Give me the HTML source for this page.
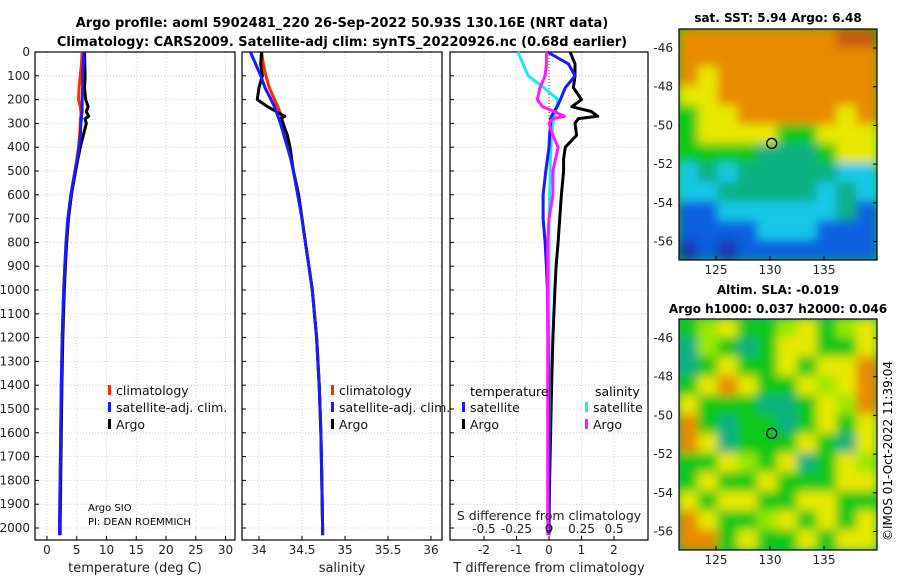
<!DOCTYPE html>
<html><head><meta charset="utf-8"><style>
body{margin:0;background:#fff;}
svg{display:block;font-family:"DejaVu Sans","Liberation Sans",sans-serif;}
</style></head><body>
<svg id="fig" width="900" height="580" viewBox="0 0 900 580">
<defs><filter id="bl" x="-5%" y="-5%" width="110%" height="110%"><feGaussianBlur stdDeviation="5"/></filter>
<clipPath id="c1"><rect x="679" y="29" width="198" height="231"/></clipPath>
<clipPath id="c2"><rect x="679" y="319" width="198" height="231"/></clipPath></defs>
<text x="342" y="27" text-anchor="middle" font-size="13" font-weight="bold">Argo profile: aoml 5902481_220 26-Sep-2022 50.93S 130.16E (NRT data)</text>
<text x="342" y="46" text-anchor="middle" font-size="13" font-weight="bold">Climatology: CARS2009. Satellite-adj clim: synTS_20220926.nc (0.68d earlier)</text>
<text x="778" y="22" text-anchor="middle" font-size="12" font-weight="bold">sat. SST: 5.94 Argo: 6.48</text>
<text x="778" y="294" text-anchor="middle" font-size="12" font-weight="bold">Altim. SLA: -0.019</text>
<text x="778" y="313" text-anchor="middle" font-size="12" font-weight="bold">Argo h1000: 0.037 h2000: 0.046</text>
<text transform="translate(892,541) rotate(-90)" font-size="12">©IMOS 01-Oct-2022 11:39:04</text>
<g id="g"></g>
</svg>
<script>
// ---- data ----
const depthTicks=[0,100,200,300,400,500,600,700,800,900,1000,1100,1200,1300,1400,1500,1600,1700,1800,1900,2000];
const tTicks=[0,5,10,15,20,25,30];
const sTicks=[34,34.5,35,35.5,36];
const dTTicks=[-2,-1,0,1,2];
const dSTicks=[-0.5,-0.25,0,0.25,0.5];
const depths=[0,50,100,150,200,230,250,270,280,300,350,400,450,500,600,700,800,900,1000,1200,1400,1600,1800,2000,2030];
const tempArgo=[6.3,6.35,6.4,6.3,6.5,6.9,6.6,7.0,6.4,6.6,6.1,5.6,5.2,4.8,4.1,3.6,3.3,3.1,2.9,2.65,2.5,2.4,2.3,2.2,2.2];
const tempClim=[5.9,5.8,5.6,5.4,5.3,5.6,5.7,5.7,5.6,5.6,5.5,5.3,5.0,4.7,4.1,3.6,3.3,3.0,2.8,2.55,2.4,2.3,2.2,2.1,2.1];
const tempSat=[6.2,6.1,6.0,6.0,5.9,5.9,5.9,5.8,5.8,5.7,5.6,5.4,5.1,4.7,4.0,3.5,3.2,3.0,2.8,2.55,2.4,2.3,2.2,2.1,2.1];
const salArgo=[34.03,34.02,34.04,34.0,33.98,34.1,34.2,34.3,34.25,34.28,34.33,34.36,34.38,34.4,34.46,34.5,34.54,34.58,34.62,34.67,34.7,34.72,34.73,34.74,34.74];
const salClim=[34.03,34.05,34.08,34.12,34.18,34.22,34.24,34.26,34.27,34.28,34.31,34.34,34.37,34.4,34.46,34.5,34.54,34.58,34.62,34.67,34.7,34.72,34.73,34.74,34.74];
const salSat=[33.9,33.96,34.02,34.07,34.14,34.18,34.2,34.22,34.23,34.25,34.29,34.33,34.37,34.4,34.45,34.5,34.54,34.58,34.62,34.67,34.7,34.72,34.73,34.74,34.74];
const dTArgo=[0.65,0.8,0.8,0.75,1.0,0.7,1.3,1.5,0.9,0.8,0.85,0.5,0.45,0.45,0.38,0.33,0.28,0.22,0.18,0.12,0.08,0.05,0.02,0.0,0.0];
const dTSat=[-0.05,0.6,0.8,0.5,0.35,0.25,0.15,0.08,0.05,0.05,0.02,0.0,-0.05,-0.1,-0.18,-0.18,-0.12,-0.08,-0.05,-0.03,-0.02,-0.01,0,0,0];
const dSSat=[-0.24,-0.2,-0.16,-0.04,0.07,0.06,0.05,0.04,0.04,0.03,0.02,0.015,0.01,0.01,0.005,0.0,0.0,0.0,0.0,0.0,0.0,0.0,0.0,0.0,0.0];
const dSArgo=[-0.02,-0.02,-0.03,-0.07,-0.09,-0.05,0.04,0.12,0.03,0.0,0.03,0.07,0.05,0.03,0.03,0.0,-0.01,-0.01,-0.01,-0.01,-0.01,-0.01,-0.01,-0.01,-0.01];
const sstGrid=["OOOOOOOORR","OOOOOOOOOO","OYOOOOOOOO","YYOOOOOOOO","GYYOOOOOYO","GYYYYGGYYY","GGGGTTTGYY","CTCTTTTTCC","CCTTTTTCTC","BBCCCCCCTB","BBBBCCCBBB","DBDBBBBBBB"];
const slaGrid=["GLYGGLYGLY","TLGTGYYGGY","TGYGGYGYYO","GYOYGGYLYO","YGGGTTGYLO","OGTGGTGYGY","OYTGGGYGTY","GGYLGYTGYL","GYGGYGGGYY","YGYYGGYYGG","OYGGLYGYGY","OOGYGGYGYY"];
const lonTicks=[125,130,135];
const latTicks=[-46,-48,-50,-52,-54,-56];
const floatLon=130.16, floatLat=-50.93;

const NS='http://www.w3.org/2000/svg';
const G=document.getElementById('g');
function el(tag,attrs,parent){const e=document.createElementNS(NS,tag);for(const k in attrs)e.setAttribute(k,attrs[k]);(parent||G).appendChild(e);return e;}
const Y0=52, Y1=528;
const yD=d=>Y0+(d/2000)*(Y1-Y0);
const panels=[
 {x0:35,x1:235,f:v=>47+v*5.95,ticks:tTicks,label:'temperature (deg C)',name:'temperature'},
 {x0:242,x1:442,f:v=>259+(v-34)*86,ticks:sTicks,label:'salinity',name:'salinity'},
 {x0:450,x1:648,f:v=>549+v*32.5,ticks:dTTicks,label:'T difference from climatology',name:'difference'}
];
const yBottom=540;
panels.forEach((p,i)=>{
  const bg=el('g',{});
  
  
  depthTicks.forEach(d=>{el('line',{x1:p.x0,x2:p.x1,y1:yD(d),y2:yD(d),stroke:'#c8c8d8','stroke-dasharray':'1,2','stroke-width':0.8},bg);
    el('line',{x1:p.x0,x2:p.x0+4,y1:yD(d),y2:yD(d),stroke:'#000'},bg);});
  p.ticks.forEach(t=>{const x=p.f(t);el('line',{x1:x,x2:x,y1:Y0,y2:yBottom,stroke:'#c8c8d8','stroke-dasharray':'1,2','stroke-width':0.8},bg);
    el('line',{x1:x,x2:x,y1:yBottom,y2:yBottom-4,stroke:'#000'},bg);
    const tx=el('text',{x:x,y:554,'text-anchor':'middle','font-size':12,fill:'#222'},bg);tx.textContent=t;
    
    });
  el('rect',{x:p.x0,y:Y0,width:p.x1-p.x0,height:yBottom-Y0,fill:'none',stroke:'#000','stroke-width':1.2},bg);
  const lab=el('text',{x:(p.x0+p.x1)/2,y:572,'text-anchor':'middle','font-size':13,fill:'#222'},bg);lab.textContent=p.label;
  
  
});
depthTicks.forEach(d=>{const t=el('text',{x:30,y:yD(d)+4,'text-anchor':'end','font-size':12,fill:'#222'});t.textContent=d;
  
  });
function line(vals,f,color,w,name){const pts=vals.map((v,i)=>f(v).toFixed(1)+','+yD(depths[i]).toFixed(1)).join(' ');
  const l=el('polyline',{points:pts,fill:'none',stroke:color,'stroke-width':w,'stroke-linejoin':'round'});
  
  }
const P=panels;
line(tempClim,P[0].f,'#ff2a00',3,'temp-climatology-line');
line(tempArgo,P[0].f,'#000',3,'temp-argo-line');
line(tempSat,P[0].f,'#1a1aff',3,'temp-satellite-line');
line(salClim,P[1].f,'#ff2a00',3,'sal-climatology-line');
line(salArgo,P[1].f,'#000',3,'sal-argo-line');
line(salSat,P[1].f,'#1a1aff',3,'sal-satellite-line');
el('line',{x1:549,x2:549,y1:Y0,y2:yD(450),stroke:'#444','stroke-dasharray':'1,2'});
const fS=v=>549+v*130;
line(dTArgo,P[2].f,'#000',3,'dT-argo-line');
line(dSSat,fS,'#22e6ee',3,'dS-satellite-line');
line(dTSat,P[2].f,'#1a1aff',3,'dT-satellite-line');
line(dSArgo,fS,'#ff1aff',3,'dS-argo-line');
el('circle',{cx:549,cy:528,r:3,fill:'none',stroke:'#000'});
const st=el('text',{x:549,y:520,'text-anchor':'middle','font-size':12.5,fill:'#222'});st.textContent='S difference from climatology';


dSTicks.forEach(s=>{const t=el('text',{x:fS(s),y:533,'text-anchor':'middle','font-size':12,fill:'#222'});t.textContent=s;
  
  });
function leg(x,y,color,txt){el('rect',{x:x,y:y-7,width:3,height:10,fill:color});
  const t=el('text',{x:x+8,y:y+3,'font-size':12.5,fill:'#111'});t.textContent=txt;
  
  }
[[108,'#ff2a00','climatology'],[331,'#ff2a00','climatology']].forEach(a=>leg(a[0],392,a[1],a[2]));
leg(108,409,'#1a1aff','satellite-adj. clim.');leg(108,426,'#000','Argo');
leg(331,409,'#1a1aff','satellite-adj. clim.');leg(331,426,'#000','Argo');
let t=el('text',{x:470,y:396,'font-size':12.5});t.textContent='temperature';
t=el('text',{x:595,y:396,'font-size':12.5});t.textContent='salinity';
leg(462,409,'#1a1aff','satellite');leg(462,426,'#000','Argo');
leg(585,409,'#22e6ee','satellite');leg(585,426,'#ff1aff','Argo');
t=el('text',{x:88,y:511,'font-size':10});t.textContent='Argo SIO';
t=el('text',{x:88,y:525,'font-size':10});t.textContent='PI: DEAN ROEMMICH';
const colors={O:'#e88a00',R:'#c85a10',Y:'#e8e800',L:'#9ae800',G:'#10c818',T:'#10b080',C:'#18c8e8',B:'#1060e0',D:'#1838b8'};
function map(grid,top,clip,name){
  const gg=el('g',{'clip-path':'url(#'+clip+')'});
  
  
  el('rect',{x:679,y:top,width:198,height:231,fill:colors[grid[5][5]]},gg);
  const inner=el('g',{filter:'url(#bl)'},gg);
  const cw=198/10,ch=231/12;
  grid.forEach((row,r)=>[...row].forEach((c,k)=>el('rect',{x:679+k*cw-1,y:top+r*ch-1,width:cw+2,height:ch+2,fill:colors[c]},inner)));
  el('rect',{x:679,y:top,width:198,height:231,fill:'none',stroke:'#000','stroke-width':1.2});
  const lx=v=>770+(v-130)*10.8, ly=v=>top+19+(-46-v)*19.35;
  lonTicks.forEach(v=>{el('line',{x1:lx(v),x2:lx(v),y1:top+231,y2:top+227,stroke:'#000'});
    const tx=el('text',{x:lx(v),y:top+245,'text-anchor':'middle','font-size':12,fill:'#222'});tx.textContent=v;
    
    });
  latTicks.forEach(v=>{el('line',{x1:877,x2:873,y1:ly(v),y2:ly(v),stroke:'#000'});
    const tx=el('text',{x:673,y:ly(v)+4,'text-anchor':'end','font-size':12,fill:'#222'});tx.textContent=v;
    
    });
  const m=el('circle',{cx:lx(floatLon),cy:ly(floatLat),r:5,fill:'none',stroke:'#000','stroke-width':1.3});
  
  
}
map(sstGrid,29,'c1','sst-map');
map(slaGrid,319,'c2','sla-map');
</script>
</body></html>
